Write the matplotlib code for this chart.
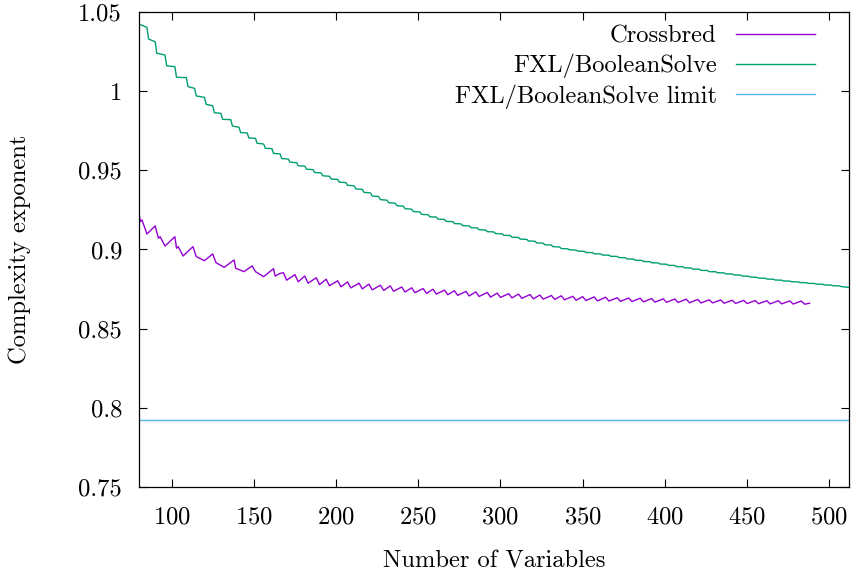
import matplotlib
matplotlib.use("Agg")
import matplotlib.pyplot as plt
from matplotlib.ticker import FuncFormatter

plt.rcParams['font.family'] = ['cmr10', 'DejaVu Serif']
plt.rcParams['axes.formatter.use_mathtext'] = True

# FXL/BooleanSolve: staircase, each plateau given by its first n,
# value at its start and value at its end (last plateau ends at n = 512)
green_start = [80, 86, 91, 97, 103, 110, 115, 121, 126, 131, 137, 142, 147, 152, 157, 162,
               167, 172, 177, 182, 187, 192, 197, 202, 207, 212, 217, 222, 227, 232, 237, 242,
               247, 252, 257, 262, 267, 272, 277, 282, 287, 292, 297, 302, 307, 312, 317, 322,
               327, 332, 337, 342, 347, 352, 357, 362, 367, 372, 377, 382, 387, 392, 397, 402,
               407, 412, 417, 422, 427, 432, 437, 442, 447, 452, 457, 462, 467, 472, 477, 482,
               487, 492, 497, 502, 507]
green_top = [1.0426, 1.0331, 1.0241, 1.0162, 1.0089, 1.0030, 0.9971, 0.9918, 0.9865, 0.9823,
             0.9781, 0.9739, 0.9705, 0.9672, 0.9640, 0.9608,
             0.9575, 0.9552, 0.9530, 0.9508, 0.9487, 0.9466, 0.9446, 0.9426, 0.9406, 0.9383,
             0.9361, 0.9338, 0.9315, 0.9296, 0.9277, 0.9258, 0.9240, 0.9222, 0.9207, 0.9192,
             0.9178, 0.9164, 0.9151, 0.9138, 0.9125, 0.9113, 0.9101, 0.9090, 0.9078, 0.9066,
             0.9054, 0.9042, 0.9030, 0.9018, 0.9006, 0.8998, 0.8990, 0.8981, 0.8973, 0.8965,
             0.8957, 0.8949, 0.8940, 0.8932, 0.8924, 0.8916, 0.8908, 0.8900, 0.8892, 0.8884,
             0.8876, 0.8868, 0.8860, 0.8853, 0.8846, 0.8839, 0.8832, 0.8825, 0.8819, 0.8813,
             0.8807, 0.8801, 0.8796, 0.8791, 0.8786, 0.8781, 0.8776, 0.8771, 0.8766]
green_end = [1.0405, 1.0314, 1.0230, 1.0156, 1.0087, 1.0019, 0.9962, 0.9909, 0.9861, 0.9821,
             0.9773, 0.9737, 0.9703, 0.9667, 0.9638, 0.9604,
             0.9572, 0.9549, 0.9527, 0.9505, 0.9484, 0.9463, 0.9443, 0.9423, 0.9403, 0.9380,
             0.9358, 0.9335, 0.9312, 0.9293, 0.9274, 0.9255, 0.9237, 0.9220, 0.9205, 0.9190,
             0.9176, 0.9162, 0.9149, 0.9136, 0.9123, 0.9111, 0.9099, 0.9088, 0.9076, 0.9064,
             0.9052, 0.9040, 0.9028, 0.9016, 0.9004, 0.8996, 0.8988, 0.8980, 0.8972, 0.8964,
             0.8956, 0.8948, 0.8939, 0.8931, 0.8923, 0.8915, 0.8907, 0.8899, 0.8891, 0.8883,
             0.8875, 0.8867, 0.8859, 0.8852, 0.8845, 0.8838, 0.8831, 0.8824, 0.8818, 0.8812,
             0.8806, 0.8800, 0.8795, 0.8790, 0.8785, 0.8780, 0.8775, 0.8770, 0.8760]
green_last_n = 512

# Crossbred: zigzag vertices
purple_n = [80, 81, 82, 85, 90, 92, 93, 96, 102, 103, 104, 107, 113, 115, 120, 125, 127, 132,
            138, 139, 144, 149, 151, 156, 162, 163, 166,
            168, 170, 175, 177, 181, 183, 188, 190, 194, 196, 201, 203, 207, 209, 214, 216,
            220, 222, 227, 229, 233, 235, 240, 242, 246, 248, 253, 255, 259, 261, 266, 268,
            272, 274, 279, 281, 285, 287, 292, 294, 298, 300, 305, 307, 311, 313, 318, 320,
            324, 326, 331, 333, 337, 339, 344, 346, 350, 352, 357, 359, 364, 366, 371, 373,
            378, 380, 385, 387, 392, 394, 399, 401, 406, 408, 413, 415, 420, 422, 427, 429,
            434, 436, 441, 443, 448, 450, 455, 457, 462, 464, 469, 471, 476, 478, 483, 485, 488]
purple_v = [0.9239, 0.9176, 0.9187, 0.9098, 0.9149, 0.9071, 0.9081, 0.9022, 0.9081, 0.9008,
            0.9018, 0.8959, 0.9018, 0.8955, 0.8929, 0.8972, 0.8917, 0.8887, 0.8934, 0.8881,
            0.8860, 0.8896, 0.8860, 0.8828, 0.8879, 0.8832, 0.8849,
            0.8853, 0.8806, 0.8841, 0.8796, 0.8832, 0.8787, 0.8821, 0.8778, 0.8812, 0.8771,
            0.8802, 0.8764, 0.8795, 0.8757, 0.8787, 0.8751, 0.8781, 0.8745, 0.8774, 0.8741,
            0.8770, 0.8736, 0.8763, 0.8731, 0.8758, 0.8727, 0.8753, 0.8722, 0.8749, 0.8718,
            0.8743, 0.8714, 0.8739, 0.8710, 0.8735, 0.8706, 0.8732, 0.8703, 0.8728, 0.8699,
            0.8724, 0.8697, 0.8721, 0.8694, 0.8718, 0.8691, 0.8715, 0.8688, 0.8712, 0.8686,
            0.8709, 0.8684, 0.8707, 0.8682, 0.8704, 0.8679, 0.8702, 0.8677, 0.8700, 0.8675,
            0.8698, 0.8674, 0.8695, 0.8672, 0.8693, 0.8671, 0.8692, 0.8669, 0.8690, 0.8667,
            0.8688, 0.8666, 0.8687, 0.8665, 0.8686, 0.8663, 0.8684, 0.8662, 0.8682, 0.8662,
            0.8681, 0.8660, 0.8679, 0.8659, 0.8678, 0.8658, 0.8677, 0.8657, 0.8676, 0.8656,
            0.8676, 0.8656, 0.8675, 0.8655, 0.8674, 0.8654, 0.8660]

limit_value = 0.792

x_ticks = [100, 150, 200, 250, 300, 350, 400, 450, 500]
y_ticks = [0.75, 0.8, 0.85, 0.9, 0.95, 1.0, 1.05]

FS = 17.7

# build staircase vertices
green_n, green_v = [], []
for i, s in enumerate(green_start):
    e = green_start[i + 1] - 1 if i + 1 < len(green_start) else green_last_n
    green_n += [s, e]
    green_v += [green_top[i], green_end[i]]

fig = plt.figure(figsize=(8.52, 5.75), dpi=100)
ax = fig.add_axes([0.1628, 0.1536, 0.8337, 0.825])

ax.plot(purple_n, purple_v, color='#9400d3', lw=1.0, label='Crossbred')
ax.plot(green_n, green_v, color='#009e73', lw=1.0, label='FXL/BooleanSolve')
ax.axhline(limit_value, color='#56b4e9', lw=1.0, label='FXL/BooleanSolve limit')

ax.set_xlim(80, 512)
ax.set_ylim(0.75, 1.05)
ax.set_xticks(x_ticks)
ax.set_yticks(y_ticks)
ax.yaxis.set_major_formatter(FuncFormatter(lambda v, p: '%g' % round(v, 2)))

ax.tick_params(direction='in', length=5.5, width=0.8, top=True, right=True,
               labelsize=FS, colors='black')
ax.tick_params(axis='x', pad=14)
ax.tick_params(axis='y', pad=12)
for sp in ax.spines.values():
    sp.set_linewidth(0.9)

ax.set_xlabel('Number of Variables', fontsize=FS, labelpad=16)
ax.set_ylabel('Complexity exponent', fontsize=FS, labelpad=34)

ax.legend(loc='upper right', bbox_to_anchor=(0.952, 0.972), frameon=False,
          markerfirst=False, fontsize=FS, handlelength=3.2, handletextpad=0.8,
          labelspacing=0.25, borderpad=0, borderaxespad=0)

fig.savefig('out.png', dpi=100)
